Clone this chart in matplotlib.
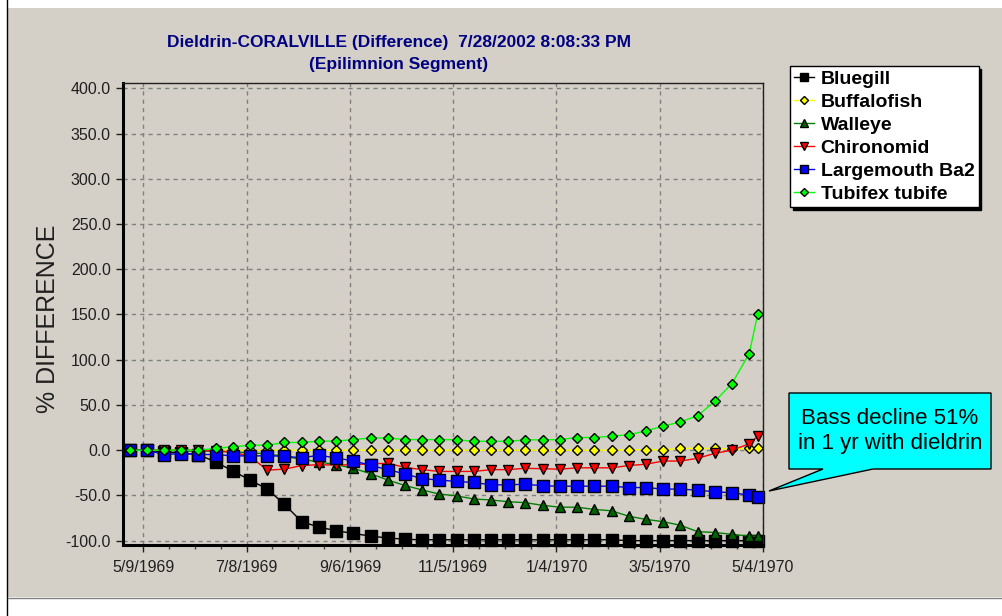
import numpy as np
import pandas as pd
import matplotlib
matplotlib.use("Agg")
import matplotlib.pyplot as plt
from matplotlib.patches import Rectangle, Polygon
from matplotlib.lines import Line2D

# sample dates: every 10 days from 5/1/1969, plus the final 5/1/1970 output
dates = list(pd.date_range("1969-05-01", periods=37, freq="10D")) + [pd.Timestamp("1970-05-01")]

bluegill = [0, 0, -2, -3, -5, -13, -23, -33, -43, -60, -79, -85, -89, -92, -95, -97, -98.5,
            -99, -99, -99, -99, -99, -99, -99, -99, -99, -99, -99, -99,
            -100, -100, -100, -100, -100, -100, -100, -100, -100]
buffalofish = [0] * 29 + [0.5, 0.5, 0.5, 2, 2, 2, 1, 2, 2]
walleye = [0, 0, 0, -1, -1, -1, -2, -3, -4, -7, -10, -13, -16, -20, -26, -33, -39, -44, -48.5,
           -50.5, -54, -55, -57, -58, -61, -63, -63, -65.5, -67, -73, -76.5, -79, -83, -90,
           -91, -93, -95, -95]
chironomid = [0, 0, 0, 0, 0, -1, -2, -7, -22, -21, -17, -16, -16.5, -16, -15, -14.5, -19,
              -21.5, -23.5, -23.5, -23.5, -21.5, -21.5, -20, -20.5, -21, -19.5, -19.5, -19.5,
              -17, -15.5, -12, -12, -9, -3.5, 0, 7, 15.5]
largemouth = [0, 0, -4.8, -3.7, -4.8, -4.8, -6.3, -6.3, -6.3, -6.6, -8.5, -5.5, -8.7, -11.8,
              -16.8, -21.5, -26.2, -31.5, -33, -34.6, -35.7, -38.3, -38.3, -37.6, -39.4, -39.8,
              -39.8, -39.8, -39.8, -41.3, -41.3, -43, -43, -44.2, -46, -47, -49.7, -51.3]
tubifex = [0, 0, 0, 0, 0, 2, 3.7, 5.5, 5.5, 8.5, 8.5, 10, 10, 11.7, 13.5, 13.5, 11.7, 11.7,
           11.7, 11.5, 9.8, 9.8, 9.8, 11.4, 11.4, 11.8, 14, 14, 15.5, 17, 21.4, 26.5, 31.3, 38,
           54, 73.7, 106.8, 151]

tick_dates = ["1969-05-09", "1969-07-08", "1969-09-06", "1969-11-05",
              "1970-01-04", "1970-03-05", "1970-05-04"]
tick_labels = ["5/9/1969", "7/8/1969", "9/6/1969", "11/5/1969",
               "1/4/1970", "3/5/1970", "5/4/1970"]

GRAY = "#d4d0c8"
FONT = "Liberation Sans"
W, H = 1003, 616

plt.rcParams["font.family"] = [FONT, "DejaVu Sans"]

fig = plt.figure(figsize=(W / 100, H / 100), dpi=100, facecolor="white")

# gray panel and window edges
fig.patches.append(Rectangle((8 / W, 1 - 597 / H), 1 - 8 / W, (597 - 8) / H,
                             transform=fig.transFigure, facecolor=GRAY, edgecolor="none", zorder=-10))
fig.add_artist(Line2D([7.5 / W, 7.5 / W], [0, 1], color="black", lw=1, transform=fig.transFigure))
fig.add_artist(Line2D([8 / W, 1], [1 - 597.5 / H, 1 - 597.5 / H], color="#808080", lw=1,
                      transform=fig.transFigure))

ax = fig.add_axes([122.7 / W, 1 - 545 / H, (763 - 122.7) / W, (545 - 83.3) / H])
ax.set_facecolor(GRAY)

series = [
    ("Bluegill", bluegill, "black", "s", "black", 8),
    ("Buffalofish", buffalofish, "#ffff00", "D", "#ffff00", 5.6),
    ("Walleye", walleye, "#008000", "^", "#006400", 7.5),
    ("Chironomid", chironomid, "#ff0000", "v", "#ff0000", 7.5),
    ("Largemouth Ba2", largemouth, "#0000ff", "s", "#0000ff", 8),
    ("Tubifex tubife", tubifex, "#00ff00", "D", "#00ff00", 5.6),
]
for name, vals, lc, mk, fc, ms in series:
    ax.plot(dates, vals, color=lc, lw=1, marker=mk, markersize=ms, markerfacecolor=fc,
            markeredgecolor="black", markeredgewidth=1, label=name, clip_on=False)

ax.set_ylim(-104.8, 405.5)
ax.set_xlim(pd.Timestamp("1969-04-27"), pd.Timestamp("1970-05-04"))
ax.set_yticks(np.arange(-100, 401, 50))
ax.set_yticklabels([f"{v:.1f}" for v in np.arange(-100, 401, 50)])
ax.set_xticks([pd.Timestamp(d) for d in tick_dates])
ax.set_xticklabels(tick_labels)
minor = [pd.Timestamp("1969-05-09") + pd.Timedelta(days=15 * i) for i in range(25)]
ax.set_xticks(minor, minor=True)

ax.tick_params(axis="both", which="major", labelsize=11.5, colors="#202020", length=5, width=1)
ax.tick_params(axis="x", which="minor", length=3, width=1, colors="#404040")
ax.tick_params(axis="x", which="major", pad=6)
ax.grid(True, which="major", color="#808080", linestyle=(0, (3, 3)), lw=1)

for side in ["left", "bottom"]:
    ax.spines[side].set_linewidth(2.2)
    ax.spines[side].set_color("black")
for side in ["top", "right"]:
    ax.spines[side].set_linewidth(1)
    ax.spines[side].set_color("#202020")

fig.text(48 / W, 1 - 319 / H, "% DIFFERENCE", rotation=90, ha="center", va="center",
         fontsize=18, color="#202020")
fig.text(399 / W, 1 - 43 / H, "Dieldrin-CORALVILLE (Difference)  7/28/2002 8:08:33 PM",
         ha="center", va="center", fontsize=12.5, fontweight="bold", color="#000080")
fig.text(399 / W, 1 - 64 / H, "(Epilimnion Segment)",
         ha="center", va="center", fontsize=12.5, fontweight="bold", color="#000080")

leg = ax.legend(loc="upper left", bbox_to_anchor=(790 / W, 1 - 66 / H), bbox_transform=fig.transFigure,
                borderaxespad=0, fancybox=False, shadow={"color": "black", "alpha": 1},
                framealpha=1, facecolor="white", edgecolor="black",
                prop={"family": FONT, "weight": "bold", "size": 14},
                handlelength=1.0, handletextpad=0.35, labelspacing=0.28, borderpad=0.22,
                markerscale=0.8)
leg.get_frame().set_linewidth(1)

# callout box
pts = [(789, 393), (991, 393), (991, 469), (873, 469), (769, 491), (823, 469), (789, 469)]
fig.patches.append(Polygon([(x / W, 1 - y / H) for x, y in pts], closed=True,
                           transform=fig.transFigure, facecolor="#00ffff", edgecolor="black",
                           lw=1, zorder=5))
fig.text(890 / W, 1 - 431 / H, "Bass decline 51%\nin 1 yr with dieldrin", ha="center", va="center",
         fontsize=16, color="black", linespacing=1.25, zorder=6)

fig.savefig("out.png", dpi=100, facecolor="white")
